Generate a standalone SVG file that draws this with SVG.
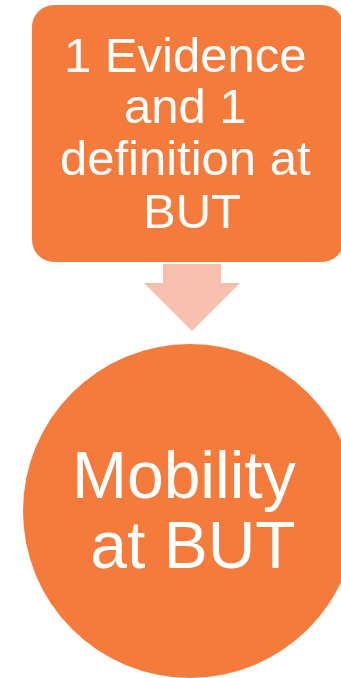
<svg xmlns="http://www.w3.org/2000/svg" width="341" height="678" viewBox="0 0 341 678">
<style>
.shape{fill:#F47B3C}
.arrow{fill:#F7BFAE}
.lbl{font-family:"Liberation Sans",Arial,sans-serif;fill:#FFFFFF;text-anchor:middle}
</style>
<rect width="341" height="678" fill="#FFFFFF"/>
<g id="connectors">
<polygon class="arrow" points="163,264 221,264 221,283 240,283 192,331 144,283 163,283"/>
</g>
<g id="node-evidence">
<rect class="shape" x="32" y="5" width="312" height="257" rx="22" ry="22"/>
<text class="lbl" font-size="49" x="192">
<tspan x="192" y="72">1 Evidence</tspan>
<tspan x="192" y="123">and 1</tspan>
<tspan x="192" y="175">definition at</tspan>
<tspan x="192" y="228">BUT</tspan>
</text>
</g>
<g id="node-mobility">
<circle class="shape" cx="190" cy="511" r="167"/>
<text class="lbl" font-size="66" x="193">
<tspan x="193" y="498">Mobility</tspan>
<tspan x="193" y="568">at BUT</tspan>
</text>
</g>
</svg>
